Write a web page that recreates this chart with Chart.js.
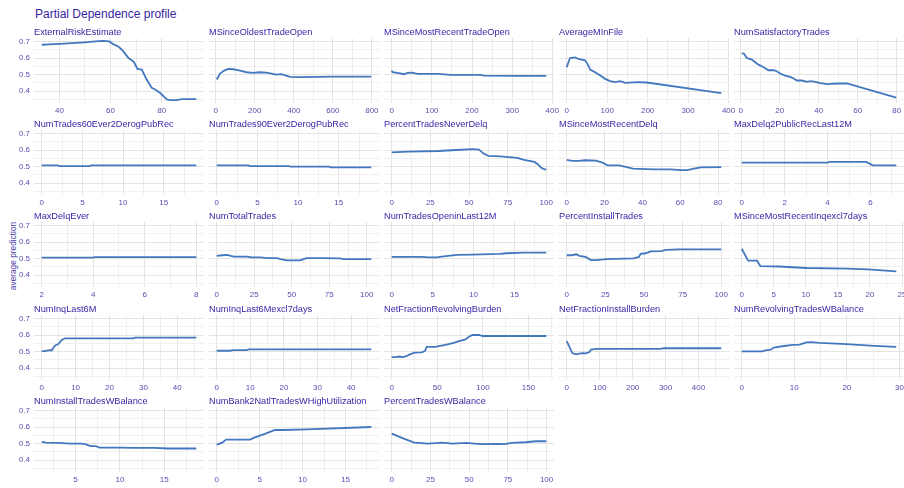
<!DOCTYPE html>
<html>
<head>
<meta charset="utf-8">
<script src="https://cdn.jsdelivr.net/npm/chart.js@4.4.1/dist/chart.umd.min.js"></script>
<style>
html, body { margin: 0; padding: 0; background: #ffffff; width: 904px; height: 488px; overflow: hidden; }
#wrap { position: relative; width: 904px; height: 488px; overflow: hidden; font-family: "Liberation Sans", Arial, sans-serif; }
.txt { position: absolute; white-space: nowrap; color: #371ea3; }
canvas { position: absolute; }
</style>
</head>
<body>
<div id="wrap"></div>
<script>
// ---------------- DATA ----------------
const chartTitle = "Partial Dependence profile";
const yAxisTitle = "average prediction";
const yTicks = [0.4, 0.5, 0.6, 0.7];

const panelTitles = [
  "ExternalRiskEstimate", "MSinceOldestTradeOpen", "MSinceMostRecentTradeOpen", "AverageMInFile", "NumSatisfactoryTrades",
  "NumTrades60Ever2DerogPubRec", "NumTrades90Ever2DerogPubRec", "PercentTradesNeverDelq", "MSinceMostRecentDelq", "MaxDelq2PublicRecLast12M",
  "MaxDelqEver", "NumTotalTrades", "NumTradesOpeninLast12M", "PercentInstallTrades", "MSinceMostRecentInqexcl7days",
  "NumInqLast6M", "NumInqLast6Mexcl7days", "NetFractionRevolvingBurden", "NetFractionInstallBurden", "NumRevolvingTradesWBalance",
  "NumInstallTradesWBalance", "NumBank2NatlTradesWHighUtilization", "PercentTradesWBalance"
];

const ereX = [33.1, 36, 40, 45, 50, 54, 57, 59.5, 61, 63, 64.4, 65.3, 67, 68.9, 69.5, 70.5, 72.2, 74.1, 76.1, 77.4, 79.3, 82, 83.3, 85.9, 87.8, 93.5];
const ereY = [0.68, 0.682, 0.685, 0.69, 0.695, 0.70, 0.703, 0.70, 0.684, 0.67, 0.65, 0.634, 0.60, 0.58, 0.565, 0.534, 0.53, 0.47, 0.42, 0.41, 0.39, 0.35, 0.346, 0.346, 0.352, 0.352];
const ereTicks = [40, 60, 80];

const msotoX = [5, 22, 43, 65, 90, 124, 158, 192, 226, 260, 311, 337, 380, 431, 516, 601, 797];
const msotoY = [0.47, 0.506, 0.524, 0.534, 0.532, 0.524, 0.514, 0.51, 0.514, 0.512, 0.50, 0.502, 0.486, 0.484, 0.486, 0.488, 0.488];
const msotoTicks = [0, 200, 400, 600, 800];

const msmrtoX = [0, 2, 14, 31, 39, 51, 64, 114, 147, 222, 230, 305, 385];
const msmrtoY = [0.524, 0.514, 0.51, 0.502, 0.51, 0.512, 0.504, 0.504, 0.498, 0.498, 0.494, 0.492, 0.492];
const msmrtoTicks = [0, 100, 200, 300, 400];

const amifX = [0, 8, 21, 29, 37, 45, 50, 58, 70, 83, 95, 107, 120, 132, 145, 174, 198, 382];
const amifY = [0.544, 0.60, 0.604, 0.594, 0.59, 0.586, 0.57, 0.53, 0.514, 0.494, 0.474, 0.46, 0.454, 0.46, 0.45, 0.454, 0.452, 0.388];
const amifTicks = [0, 100, 200, 300, 400];

const nstX = [0.5, 1.7, 3.1, 5.7, 7.4, 9.1, 11.7, 14.2, 16.8, 18.5, 20.2, 22.8, 25.4, 27.1, 28.8, 31.4, 34, 35.7, 38.3, 40.8, 44.3, 49.4, 54.5, 79.8];
const nstY = [0.63, 0.626, 0.60, 0.59, 0.574, 0.56, 0.544, 0.526, 0.526, 0.52, 0.506, 0.494, 0.486, 0.476, 0.464, 0.464, 0.456, 0.46, 0.456, 0.448, 0.442, 0.446, 0.446, 0.36];
const nstTicks = [0, 20, 40, 60, 80];

const nt60X = [0, 2, 2.2, 5.9, 6.1, 19];
const nt60Y = [0.507, 0.507, 0.502, 0.502, 0.507, 0.507];
const nt60Ticks = [0, 5, 10, 15];

const nt90X = [0, 3.9, 4.1, 8.9, 9.1, 13.8, 14, 19];
const nt90Y = [0.507, 0.507, 0.503, 0.503, 0.5, 0.5, 0.495, 0.495];
const nt90Ticks = [0, 5, 10, 15];

const ptndX = [0, 10.6, 30.5, 41.5, 52.5, 56.5, 59.2, 62.5, 70.2, 81.2, 85.7, 92.3, 94.5, 96.7, 98.9, 100];
const ptndY = [0.586, 0.59, 0.594, 0.60, 0.605, 0.603, 0.58, 0.565, 0.561, 0.553, 0.54, 0.528, 0.514, 0.493, 0.483, 0.483];
const ptndTicks = [0, 25, 50, 75, 100];

const msmrdX = [0, 2.7, 6.3, 9.9, 15.3, 18.9, 21.5, 27.8, 35, 45.8, 54.8, 60.1, 63.7, 67.3, 70.9, 81.7];
const msmrdY = [0.541, 0.534, 0.534, 0.538, 0.536, 0.524, 0.507, 0.507, 0.487, 0.483, 0.483, 0.478, 0.478, 0.487, 0.495, 0.497];
const msmrdTicks = [0, 20, 40, 60, 80];

const md2X = [0, 4, 4.1, 5.8, 6.1, 7.2];
const md2Y = [0.524, 0.524, 0.528, 0.528, 0.507, 0.507];
const md2Ticks = [0, 2, 4, 6];

const mdeX = [2, 4, 4.05, 8];
const mdeY = [0.506, 0.506, 0.509, 0.509];
const mdeTicks = [2, 4, 6, 8];

const nttX = [0, 3.8, 7.1, 9.3, 11.5, 20.3, 22.5, 29.1, 33.6, 40.2, 42.4, 46.8, 55.6, 57.8, 60, 68.9, 82.1, 84.3, 103];
const nttY = [0.516, 0.52, 0.522, 0.516, 0.512, 0.512, 0.508, 0.507, 0.503, 0.503, 0.497, 0.489, 0.489, 0.497, 0.503, 0.503, 0.501, 0.497, 0.497];
const nttTicks = [0, 25, 50, 75, 100];

const ntoX = [0, 3.7, 4.5, 5.5, 6.1, 8.0, 9.9, 13.2, 14.0, 16.1, 18.9];
const ntoY = [0.51, 0.51, 0.507, 0.507, 0.512, 0.522, 0.524, 0.528, 0.532, 0.536, 0.536];
const ntoTicks = [0, 5, 10, 15];

const pitX = [0, 3.3, 6.2, 8.2, 12.2, 15.6, 18.9, 25.6, 43.3, 46.7, 47.8, 51.1, 54.4, 61.1, 64.4, 72.2, 100];
const pitY = [0.52, 0.52, 0.526, 0.516, 0.51, 0.491, 0.491, 0.497, 0.501, 0.51, 0.528, 0.532, 0.543, 0.545, 0.553, 0.555, 0.555];
const pitTicks = [0, 25, 50, 75, 100];

const msmriX = [0, 1, 2.4, 2.9, 5.9, 10.1, 16.5, 19.7, 24.1];
const msmriY = [0.559, 0.487, 0.487, 0.454, 0.452, 0.443, 0.439, 0.435, 0.423];
const msmriTicks = [0, 5, 10, 15, 20, 25];

const nilX = [0, 1, 1.5, 2.5, 3, 3.7, 4.2, 4.9, 5.9, 6.9, 27, 27.5, 45.6];
const nilY = [0.503, 0.503, 0.505, 0.508, 0.508, 0.532, 0.54, 0.545, 0.57, 0.58, 0.58, 0.584, 0.584];
const nilTicks = [0, 10, 20, 30, 40];

const nileX = [0, 4, 5, 9, 9.5, 46];
const nileY = [0.505, 0.505, 0.509, 0.509, 0.513, 0.513];
const nileTicks = [0, 10, 20, 30, 40];

const nfrbX = [0, 4.8, 7.4, 12.3, 16, 19.7, 25.3, 32.7, 36.4, 38.3, 47.6, 58.7, 68, 73.6, 81, 84.8, 88.5, 95.9, 99.6, 169.5];
const nfrbY = [0.466, 0.466, 0.47, 0.466, 0.472, 0.483, 0.493, 0.495, 0.503, 0.528, 0.528, 0.54, 0.553, 0.563, 0.574, 0.59, 0.6, 0.6, 0.594, 0.594];
const nfrbTicks = [0, 50, 100, 150];

const nfibX = [0, 17, 28, 38, 48, 58, 69, 74, 89, 130, 284, 294, 469];
const nfibY = [0.563, 0.491, 0.483, 0.487, 0.491, 0.489, 0.497, 0.512, 0.516, 0.516, 0.516, 0.52, 0.52];
const nfibTicks = [0, 100, 200, 300, 400];

const nrtX = [0, 3.9, 4.5, 5.5, 6.1, 7.7, 9.7, 11, 12.3, 13.2, 14.8, 20, 25.2, 29.4];
const nrtY = [0.501, 0.501, 0.507, 0.511, 0.524, 0.532, 0.54, 0.542, 0.555, 0.557, 0.553, 0.545, 0.534, 0.528];
const nrtTicks = [0, 10, 20, 30];

const nitX = [1.2, 1.7, 2.9, 4.5, 5.7, 6.1, 6.7, 7.3, 7.7, 10.2, 11.5, 13.9, 15.4, 18.6];
const nitY = [0.51, 0.506, 0.504, 0.5, 0.5, 0.496, 0.484, 0.484, 0.476, 0.476, 0.474, 0.474, 0.47, 0.47];
const nitTicks = [5, 10, 15];

const nb2X = [0, 0.6, 1.1, 3.9, 4.3, 5.6, 6.8, 7.6, 10.5, 18];
const nb2Y = [0.494, 0.504, 0.524, 0.524, 0.534, 0.558, 0.582, 0.582, 0.586, 0.6];
const nb2Ticks = [0, 5, 10, 15];

const ptwbX = [0, 7.8, 14.6, 23.5, 32.5, 39.2, 48.2, 57.2, 68.4, 72.9, 77.4, 86.3, 93, 99.8];
const ptwbY = [0.56, 0.53, 0.506, 0.5, 0.506, 0.5, 0.504, 0.496, 0.498, 0.496, 0.504, 0.508, 0.514, 0.514];
const ptwbTicks = [0, 25, 50, 75, 100];

const panelXs = [ereX, msotoX, msmrtoX, amifX, nstX, nt60X, nt90X, ptndX, msmrdX, md2X, mdeX, nttX, ntoX, pitX, msmriX, nilX, nileX, nfrbX, nfibX, nrtX, nitX, nb2X, ptwbX];
const panelYs = [ereY, msotoY, msmrtoY, amifY, nstY, nt60Y, nt90Y, ptndY, msmrdY, md2Y, mdeY, nttY, ntoY, pitY, msmriY, nilY, nileY, nfrbY, nfibY, nrtY, nitY, nb2Y, ptwbY];
const panelTicks = [ereTicks, msotoTicks, msmrtoTicks, amifTicks, nstTicks, nt60Ticks, nt90Ticks, ptndTicks, msmrdTicks, md2Ticks, mdeTicks, nttTicks, ntoTicks, pitTicks, msmriTicks, nilTicks, nileTicks, nfrbTicks, nfibTicks, nrtTicks, nitTicks, nb2Ticks, ptwbTicks];

// ---------------- LAYOUT / STYLE ----------------
const PURPLE = "#371ea3";
const TICK_COL = "#5b4cb0";
const LINE_COL = "#4378bf";
const GRID_MAJ = "#e4e4e4";
const GRID_MIN = "#f0f0f0";
const FONT = "'Liberation Sans', Arial, sans-serif";
const PW = 170, PH = 65, PAD_T = 10, XAX_H = 18, PAD_L = 12, PAD_R = 12, YAX_W = 34;
const colLeft = c => 34 + 175 * c;
const rowTop = r => Math.round(38 + 92.2 * r);

const wrap = document.getElementById('wrap');

function addText(txt, left, top, size, extra) {
  const d = document.createElement('div');
  d.className = 'txt';
  d.textContent = txt;
  d.style.left = left + 'px';
  d.style.top = top + 'px';
  d.style.fontSize = size + 'px';
  d.style.lineHeight = Math.round(size * 1.2) + 'px';
  if (extra) Object.assign(d.style, extra);
  wrap.appendChild(d);
  return d;
}

function expand(vals) {
  const lo = Math.min(...vals), hi = Math.max(...vals);
  const r = (hi - lo) || 1;
  return [lo - 0.05 * r, hi + 0.05 * r];
}

function buildTicks(majors, lo, hi) {
  const step = majors.length > 1 ? majors[1] - majors[0] : 1;
  const out = majors.map(v => ({ value: v, isMaj: true, txt: String(v) }));
  out.push({ value: majors[0] - step / 2, isMaj: false, txt: '' });
  majors.forEach(v => out.push({ value: v + step / 2, isMaj: false, txt: '' }));
  return out.filter(t => t.value >= lo - 1e-9 && t.value <= hi + 1e-9).sort((a, b) => a.value - b.value);
}

const allY = [].concat(...panelYs);
const [yLo, yHi] = expand(allY);

addText(chartTitle, 35, 7, 12);
addText(yAxisTitle, 13, 256, 8.3, { transform: 'translate(-50%, -50%) rotate(-90deg)', color: '#4a3aa8' });

panelTitles.forEach((title, i) => {
  const r = Math.floor(i / 5), c = i % 5;
  const left = colLeft(c), top = rowTop(r);
  const cw = (c === 0 ? YAX_W : PAD_L) + PW + PAD_R;
  const ch = PAD_T + PH + XAX_H;
  const cv = document.createElement('canvas');
  cv.width = cw; cv.height = ch;
  cv.style.width = cw + 'px'; cv.style.height = ch + 'px';
  cv.style.left = (left - (c === 0 ? YAX_W : PAD_L)) + 'px';
  cv.style.top = (top - PAD_T) + 'px';
  wrap.appendChild(cv);

  const xs = panelXs[i], ys = panelYs[i];
  const [xLo, xHi] = expand(xs);
  const xt = buildTicks(panelTicks[i], xLo, xHi);
  const yt = buildTicks(yTicks, yLo, yHi);

  new Chart(cv, {
    type: 'line',
    data: {
      datasets: [{
        data: xs.map((x, k) => ({ x: x, y: ys[k] })),
        borderColor: LINE_COL,
        borderWidth: 1.8,
        pointRadius: 0,
        tension: 0,
        fill: false
      }]
    },
    options: {
      responsive: false,
      animation: false,
      devicePixelRatio: 1,
      events: [],
      layout: { padding: { left: c === 0 ? 0 : PAD_L, right: PAD_R, top: PAD_T, bottom: 0 } },
      plugins: { legend: { display: false }, tooltip: { enabled: false }, title: { display: false } },
      scales: {
        x: {
          type: 'linear',
          min: xLo, max: xHi,
          bounds: 'data',
          afterBuildTicks: s => { s.ticks = xt.map(t => Object.assign({}, t)); },
          afterFit: s => { s.height = XAX_H; },
          ticks: {
            autoSkip: false, maxRotation: 0, minRotation: 0, padding: 3,
            color: TICK_COL, font: { family: FONT, size: 8 },
            callback: (v, idx, arr) => arr[idx].txt
          },
          grid: { drawTicks: false, lineWidth: 1, color: ctx => (ctx.tick && ctx.tick.isMaj) ? GRID_MAJ : GRID_MIN },
          border: { display: false }
        },
        y: {
          type: 'linear',
          min: yLo, max: yHi,
          bounds: 'data',
          afterBuildTicks: s => { s.ticks = yt.map(t => Object.assign({}, t)); },
          afterFit: s => { s.width = c === 0 ? YAX_W : 0; },
          ticks: {
            display: c === 0, autoSkip: false, padding: 4,
            color: TICK_COL, font: { family: FONT, size: 8 },
            callback: (v, idx, arr) => arr[idx].txt
          },
          grid: { drawTicks: false, lineWidth: 1, color: ctx => (ctx.tick && ctx.tick.isMaj) ? GRID_MAJ : GRID_MIN },
          border: { display: false }
        }
      }
    }
  });

  addText(title, left, top - 11, 9.2);
});
</script>
</body>
</html>
